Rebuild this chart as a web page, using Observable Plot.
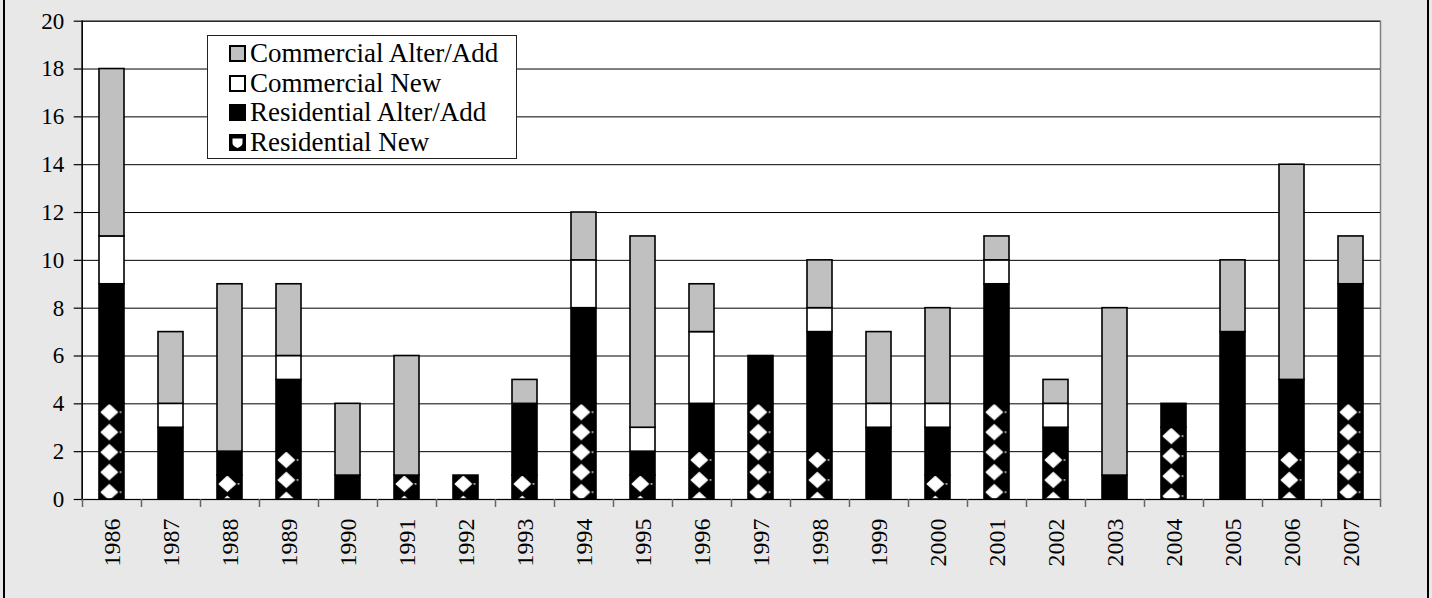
<!DOCTYPE html>
<html>
<head>
<meta charset="utf-8">
<script src="https://cdn.jsdelivr.net/npm/d3@7"></script>
<script src="https://cdn.jsdelivr.net/npm/@observablehq/plot@0.6"></script>
<style>
  html, body { margin: 0; padding: 0; background: #e8e8e8; }
  #wrap { position: relative; width: 1432px; height: 598px; background: #e8e8e8; overflow: hidden;
          font-family: "Liberation Serif", "Times New Roman", serif; }
  #wrap .edge { position: absolute; top: 0; width: 2px; height: 598px; background: #000; }
  #wrap svg { position: absolute; left: 0; top: 0; }
  #legend { position: absolute; left: 207px; top: 35px; width: 310px; height: 124px; box-sizing: border-box;
            background: #fff; border: 1.5px solid #222; padding-top: 3px; font-size: 27px; color: #000; }
  #legend .row { height: 29.5px; line-height: 29.5px; display: flex; align-items: center; padding-left: 21px; white-space: nowrap; }
  #legend .sw { width: 17px; height: 17px; box-sizing: border-box; border: 2px solid #000; margin-right: 4px; flex: none; }
  #legend svg.sw { position: static; border: none; }
</style>
</head>
<body>
<div id="wrap">
  <div class="edge" style="left:3px"></div>
  <div class="edge" style="left:1427px"></div>
</div>
<script>
// ---- data ----
const years = ["1986","1987","1988","1989","1990","1991","1992","1993","1994","1995","1996",
               "1997","1998","1999","2000","2001","2002","2003","2004","2005","2006","2007"];
const residentialNew      = [4,0,1,2,0,1,1,1,4,1,2,4,2,0,1,4,2,0,3,0,2,4];
const residentialAlterAdd = [5,3,1,3,1,0,0,3,4,1,2,2,5,3,2,5,1,1,1,7,3,5];
const commercialNew       = [2,1,0,1,0,0,0,0,2,1,3,0,1,1,1,1,1,0,0,0,0,0];
const commercialAlterAdd  = [7,3,7,3,3,5,0,1,2,8,2,0,2,3,4,1,1,7,0,3,9,2];
const seriesNames = ["Residential New","Residential Alter/Add","Commercial New","Commercial Alter/Add"];
const yTicks = [0,2,4,6,8,10,12,14,16,18,20];

const seriesValues = [residentialNew, residentialAlterAdd, commercialNew, commercialAlterAdd];
const seriesFill = { "Residential Alter/Add": "#000000", "Commercial New": "#ffffff", "Commercial Alter/Add": "#c0c0c0" };

const rows = [];
years.forEach((year, i) => {
  seriesNames.forEach((s, k) => rows.push({ year, i, series: s, value: seriesValues[k][i] }));
});
const barRows = rows.filter(d => d.value > 0);

const W = 1432, H = 598, mL = 81.7, mR = 52, mT = 20.7, mB = 99;
const step = (W - mL - mR) / years.length;

const chart = Plot.plot({
  width: W, height: H,
  marginLeft: mL, marginRight: mR, marginTop: mT, marginBottom: mB,
  style: { background: "transparent", fontFamily: "'Liberation Serif', 'Times New Roman', serif", color: "#000", overflow: "visible" },
  x: { domain: years, paddingInner: 0.577, paddingOuter: 0.2885, label: null },
  y: { domain: [0, 20], label: null },
  marks: [
    Plot.frame({ fill: "#ffffff", stroke: "#808080", strokeWidth: 1.5 }),
    Plot.gridY(yTicks, { stroke: "#000", strokeOpacity: 1, strokeWidth: 1 }),
    Plot.barY(barRows, Plot.stackY({
      x: "year", y: "value", order: null,
      fill: d => d.series === "Residential New" ? `url(#rn${d.i})` : seriesFill[d.series],
      stroke: "#000", strokeWidth: 1.6
    })),
    Plot.frame({ anchor: "left", stroke: "#000", strokeWidth: 1.5 }),
    Plot.axisY(yTicks, { tickSize: 8, tickPadding: 10, fontSize: 23, stroke: "#000", strokeWidth: 1.2, label: null }),
    Plot.axisX({ tickSize: 0, tickPadding: 19, tickRotate: -90, fontSize: 24, label: null }),
    Plot.axisX({ tickSize: 8, tickFormat: () => "", dx: -step / 2, stroke: "#666", strokeWidth: 1.5, label: null }),
    Plot.axisX(years.slice(-1), { tickSize: 8, tickFormat: () => "", dx: step / 2, stroke: "#666", strokeWidth: 1.5, label: null })
  ]
});

// pattern for Residential New: anchored at each segment's top
const xs = chart.scale("x");
const ys = chart.scale("y");
const bw = xs.bandwidth;
const ns = "http://www.w3.org/2000/svg";
let defs = `<filter id="soft" x="-30%" y="-30%" width="160%" height="160%"><feGaussianBlur stdDeviation="0.6"/></filter>`;
years.forEach((year, i) => {
  const x0 = xs.apply(year);
  const y0 = ys.apply(residentialNew[i]);
  const cx = bw / 2 - 2.2;
  defs += `<pattern id="rn${i}" patternUnits="userSpaceOnUse" x="${x0}" y="${y0}" width="${step}" height="20">
    <rect width="${step}" height="20" fill="#000"/>
    <g filter="url(#soft)" fill="#fff" stroke="#fff" stroke-width="1" stroke-linejoin="round">
      <path d="M${cx - 8.3},8.8 L${cx},1.2 L${cx + 8.3},8.8 L${cx},16.4 Z"/>
      <rect x="${cx + 10.5}" y="8" width="1.4" height="1.6" stroke="none"/>
    </g>
  </pattern>`;
});
const defsEl = document.createElementNS(ns, "defs");
defsEl.innerHTML = defs;
chart.insertBefore(defsEl, chart.firstChild);

document.getElementById("wrap").appendChild(chart);

// legend (top to bottom in reverse stack order)
const legend = document.createElement("div");
legend.id = "legend";
const legendOrder = seriesNames.slice().reverse();
legendOrder.forEach(s => {
  const row = document.createElement("div");
  row.className = "row";
  if (s === "Residential New") {
    row.innerHTML = `<svg class="sw" width="17" height="17" viewBox="0 0 17 17" style="margin-right:4px;flex:none">
      <rect width="17" height="17" fill="#000"/>
      <path d="M3.5,4.5 L13.5,4.5 L13.5,9 Q13.5,12 8.5,14 Q3.5,12 3.5,9 Z" fill="#fff"/>
    </svg>`;
  } else {
    row.innerHTML = `<span class="sw" style="background:${seriesFill[s]}"></span>`;
  }
  const t = document.createElement("span");
  t.textContent = s;
  row.appendChild(t);
  legend.appendChild(row);
});
document.getElementById("wrap").appendChild(legend);
</script>
</body>
</html>
